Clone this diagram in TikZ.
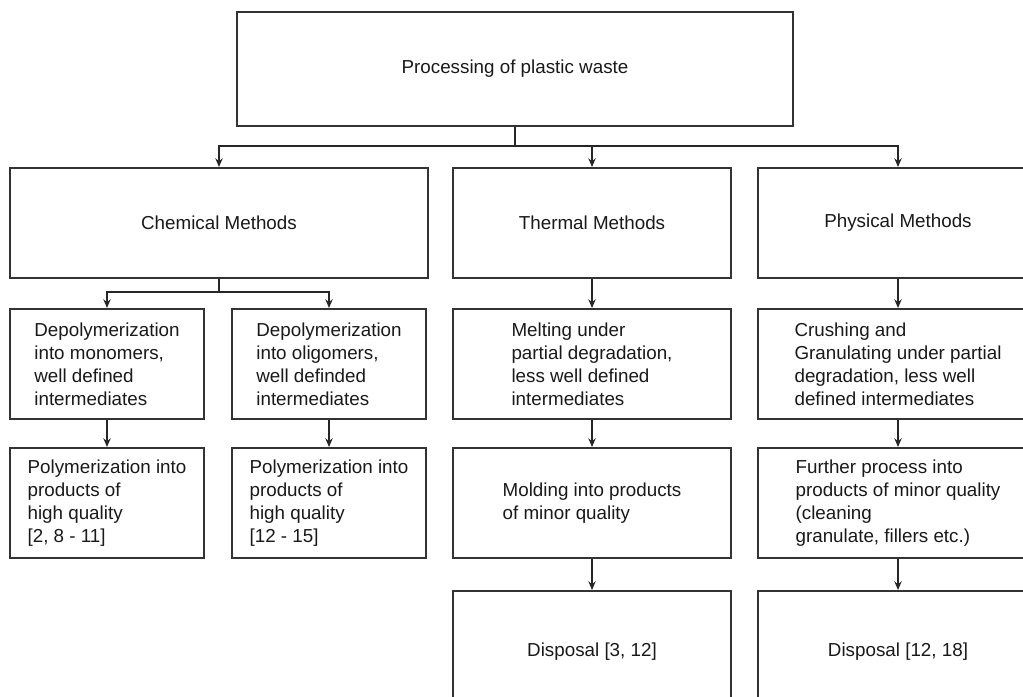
\documentclass[tikz,border=0pt]{standalone}
\usepackage{fontspec}
\setmainfont{Liberation Sans}
\usetikzlibrary{arrows.meta}
\begin{document}
\begin{tikzpicture}[x=0.75pt,y=-0.75pt,
 bx/.style={draw=black!80, line width=1.5pt, inner sep=0pt, align=left,
   font=\fontsize{14.1}{17.25}\selectfont, text=black!90},
 conn/.style={draw=black!85, line width=1.3pt},
 arr/.style={conn, -{Stealth[length=6.5pt,width=5.5pt]}}]
\useasboundingbox (0,0) rectangle (1023,696);
\clip (0,0) rectangle (1023,696);
% row 0
\node[bx, minimum width=556*0.75pt, minimum height=114*0.75pt] (top) at (515,69) {Processing of plastic waste};
% row 1
\node[bx, minimum width=418*0.75pt, minimum height=110*0.75pt] (chem) at (219,223) {Chemical Methods};
\node[bx, minimum width=278*0.75pt, minimum height=110*0.75pt] (therm) at (592,223) {Thermal Methods};
\node[bx, minimum width=280*0.75pt, minimum height=110*0.75pt] (phys) at (898,223) {Physical Methods};
% row 2
\node[bx, minimum width=194*0.75pt, minimum height=110*0.75pt] (mono) at (107,364) {Depolymerization\\into monomers,\\well defined\\intermediates};
\node[bx, minimum width=194*0.75pt, minimum height=110*0.75pt] (oligo) at (329,364) {Depolymerization\\into oligomers,\\well definded\\intermediates};
\node[bx, minimum width=278*0.75pt, minimum height=110*0.75pt] (melt) at (592,364) {Melting under\\partial degradation,\\less well defined\\intermediates};
\node[bx, minimum width=280*0.75pt, minimum height=110*0.75pt] (crush) at (898,364) {Crushing and\\Granulating under partial\\degradation, less well\\defined intermediates};
% row 3
\node[bx, minimum width=194*0.75pt, minimum height=110*0.75pt] (poly1) at (107,503) {Polymerization into\\products of\\high quality\\{[2, 8 - 11]}};
\node[bx, minimum width=194*0.75pt, minimum height=110*0.75pt] (poly2) at (329,503) {Polymerization into\\products of\\high quality\\{[12 - 15]}};
\node[bx, minimum width=278*0.75pt, minimum height=110*0.75pt] (mold) at (592,503) {Molding into products\\of minor quality};
\node[bx, minimum width=280*0.75pt, minimum height=110*0.75pt] (further) at (898,503) {Further process into\\products of minor quality\\(cleaning\\granulate, fillers etc.)};
% row 4
\node[bx, minimum width=278*0.75pt, minimum height=122*0.75pt] (disp1) at (592,652) {Disposal [3, 12]};
\node[bx, minimum width=280*0.75pt, minimum height=122*0.75pt] (disp2) at (898,652) {Disposal [12, 18]};
% connectors
\coordinate (j1) at (515,146);
\coordinate (j2) at (219,292);
\draw[conn] (top) -- (j1);
\draw[arr] (j1) -| (chem);
\draw[arr] (j1) -| (therm);
\draw[arr] (j1) -| (phys);
\draw[conn] (chem) -- (j2);
\draw[arr] (j2) -| (mono);
\draw[arr] (j2) -| (oligo);
\draw[arr] (therm) -- (melt);
\draw[arr] (phys) -- (crush);
\draw[arr] (mono) -- (poly1);
\draw[arr] (oligo) -- (poly2);
\draw[arr] (melt) -- (mold);
\draw[arr] (crush) -- (further);
\draw[arr] (mold) -- (disp1);
\draw[arr] (further) -- (disp2);
\end{tikzpicture}
\end{document}
